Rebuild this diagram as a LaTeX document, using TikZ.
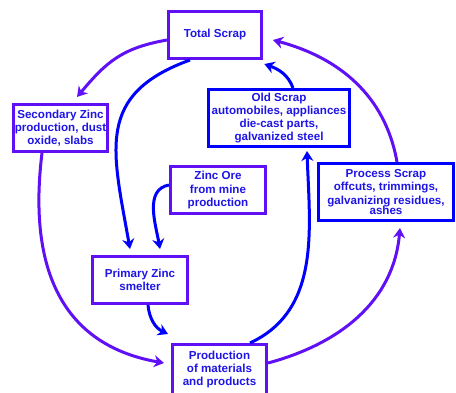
\documentclass[tikz,border=0pt]{standalone}
\usepackage{fontspec}
\setmainfont{Liberation Sans}
\usetikzlibrary{arrows.meta}
\definecolor{zroxo}{RGB}{96,16,245}
\definecolor{zazul}{RGB}{0,0,255}
\definecolor{ztexto}{RGB}{30,20,230}
\tikzset{
  caixa/.style={draw=zroxo, line width=2.8pt, inner sep=0pt, align=center,
    text=ztexto, font=\fontsize{11.6}{13.3}\selectfont\bfseries},
  caixaazul/.style={caixa, draw=zazul},
  seta/.style={->, line width=3pt},
}
\begin{document}
\begin{tikzpicture}[x=1pt, y=1pt, >={Stealth[length=10pt,width=12pt]}]
            \useasboundingbox (0,0) rectangle (456,392);
            \clip (0,0) rectangle (456,392);

            % Caixas
            \node[caixa, minimum width=93.2pt, minimum height=47.2pt] (total) at (215,357) {Total Scrap};
            \node[caixa, minimum width=94.2pt, minimum height=47.2pt] (secondary) at (60.5,264) {Secondary Zinc\\ production, dust\\ oxide, slabs};
            \node[caixaazul, minimum width=141.2pt, minimum height=57.2pt] (oldscrap) at (279,274) {Old Scrap\\ automobiles, appliances\\ die-cast parts,\\ galvanized steel};
            \node[caixaazul, minimum width=135.2pt, minimum height=57.2pt] (process) at (386,200) {Process Scrap\\ offcuts, trimmings,\\ galvanizing residues,\\[-3pt] ashes};
            \node[caixa, minimum width=95.2pt, minimum height=47.2pt] (ore) at (218,202) {Zinc Ore\\ from mine\\ production};
            \node[caixa, minimum width=95.2pt, minimum height=47.2pt] (primary) at (140,112) {Primary Zinc\\ smelter};
            \node[caixa, minimum width=94.2pt, minimum height=50.2pt] (production) at (219.5,22.5) {Production\\ of materials\\ and products};

            % Setas do ciclo externo
            \draw[seta, zroxo] ([yshift=-5pt]total.west) to[out=190, in=50, looseness=1.1] ([xshift=16.5pt, yshift=6pt]secondary.north);
            \draw[seta, zroxo] ([xshift=-18.5pt]secondary.south) to[out=263, in=170, looseness=1.15] ([xshift=-7pt, yshift=6.5pt]production.west);
            \draw[seta, zroxo] ([yshift=6.5pt]production.east) to[out=15, in=-95] ([xshift=14pt, yshift=-6pt]process.south);
            \draw[seta, zroxo] ([xshift=11pt]process.north) to[out=100, in=-15] ([xshift=10pt, yshift=-5pt]total.east);

            % Setas internas
            \draw[seta, zazul] ([xshift=-25pt]total.south) to[out=200, in=100, looseness=1.3] ([xshift=-10pt, yshift=6pt]primary.north);
            \draw[seta, zazul] ([yshift=5pt]ore.west) to[out=190, in=100] ([xshift=20pt, yshift=6pt]primary.north);
            \draw[seta, zazul] ([xshift=8pt]primary.south) to[out=-85, in=155] ([xshift=-3pt, yshift=9pt]production.north west);
            \draw[seta, zazul] ([xshift=30.5pt]production.north) to[out=25, in=-88] ([xshift=28pt, yshift=-3pt]oldscrap.south);
            \draw[seta, zazul] ([xshift=14pt]oldscrap.north) to[out=110, in=-20] ([xshift=1.3pt, yshift=-4pt]total.south east);
        \end{tikzpicture}
\end{document}
